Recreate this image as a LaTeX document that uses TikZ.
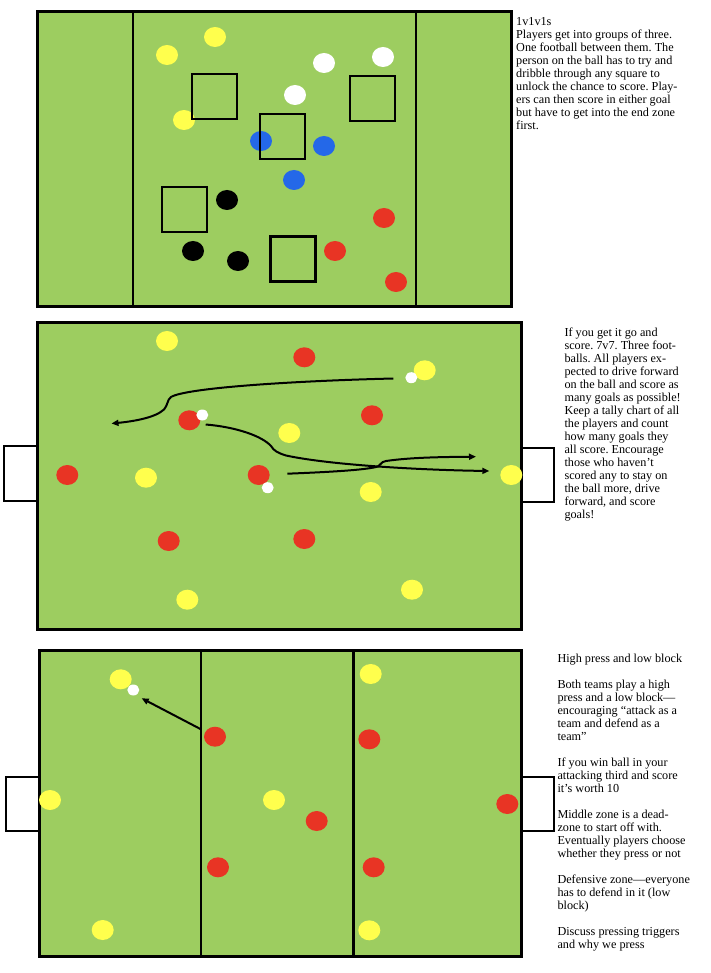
\documentclass[tikz,border=0pt]{standalone}
\usepackage{fontspec}
\setmainfont{Liberation Serif}
\usetikzlibrary{shapes.geometric,arrows.meta}
\definecolor{pitchgreen}{RGB}{157,205,96}
\definecolor{cyellow}{RGB}{255,255,77}
\definecolor{cred}{RGB}{232,52,36}
\definecolor{cblue}{RGB}{36,104,232}
\frenchspacing
\begin{document}
\begin{tikzpicture}[x=1pt,y=-1pt,
  pitch/.style={fill=pitchgreen,draw=black,line width=3pt},
  zone/.style={draw=black,line width=2.8pt},
  goalbox/.style={fill=white,draw=black,line width=2.2pt},
  dot/.style={ellipse,inner sep=0pt,minimum width=22pt,minimum height=20pt,draw=none},
  ydot/.style={dot,fill=cyellow},
  rdot/.style={dot,fill=cred},
  bdot/.style={dot,fill=cblue},
  kdot/.style={dot,fill=black},
  wdot/.style={dot,fill=white},
  ball/.style={ellipse,inner sep=0pt,minimum width=12pt,minimum height=11pt,fill=white,draw=none},
  sqbox/.style={draw=black,line width=2.8pt,minimum size=45pt,inner sep=0pt},
  run/.style={draw=black,line width=2pt,-{Triangle[length=7pt,width=6pt]}},
  txt/.style={anchor=base west,inner sep=0pt,font=\fontsize{12.2}{13}\selectfont}
]
\useasboundingbox (0,0) rectangle (710,973);

% ================= Panel 1 =================
\draw[pitch] (37,12) rectangle (511,306);
\draw[zone] (133,12) -- (133,306);
\draw[zone] (416,12) -- (416,306);

\node[ydot] (a1) at (215,37) {};
\node[ydot] (a2) at (167,55) {};
\node[ydot] (a3) at (184,120) {};
\node[wdot] (a4) at (324,63) {};
\node[wdot] (a5) at (383,57) {};
\node[wdot] (a6) at (295,95) {};
\node[bdot] (a7) at (261,141) {};
\node[bdot] (a8) at (324,146) {};
\node[bdot] (a9) at (294,180) {};
\node[kdot] (a10) at (227,200) {};
\node[kdot] (a11) at (193,251) {};
\node[kdot] (a12) at (238,261) {};
\node[rdot] (a13) at (384,218) {};
\node[rdot] (a14) at (335,251) {};
\node[rdot] (a15) at (396,282) {};

\node[sqbox] (s1) at (214.5,96.5) {};
\node[sqbox] (s2) at (282.5,136.5) {};
\node[sqbox] (s3) at (372.5,98.5) {};
\node[sqbox] (s4) at (184.5,209.5) {};
\node[sqbox] (s5) at (293,259) {};

\node[txt] (t1) at (516,26) {\begin{tabular}[t]{@{}l@{}}
1v1v1s\\
Players get into groups of three.\\
One football between them. The\\
person on the ball has to try and\\
dribble through any square to\\
unlock the chance to score. Play-\\
ers can then score in either goal\\
but have to get into the end zone\\
first.
\end{tabular}};

% ================= Panel 2 =================
\draw[goalbox] (4,446) rectangle (37,501);
\draw[goalbox] (521,448) rectangle (554,502);
\draw[pitch] (37,322.5) rectangle (521,629);

\node[ydot] (b1) at (167,341) {};
\node[ydot] (b2) at (424.7,370.3) {};
\node[ydot] (b3) at (289.3,433) {};
\node[ydot] (b4) at (146,477.7) {};
\node[ydot] (b5) at (370.7,492) {};
\node[ydot] (b6) at (511.3,475) {};
\node[ydot] (b7) at (187.3,599.7) {};
\node[ydot] (b8) at (412,589.7) {};
\node[rdot] (b9) at (304.3,357.3) {};
\node[rdot] (b10) at (189.3,420.3) {};
\node[rdot] (b11) at (372,415.3) {};
\node[rdot] (b12) at (67.3,475) {};
\node[rdot] (b13) at (258.7,475) {};
\node[rdot] (b14) at (168.7,541) {};
\node[rdot] (b15) at (304.3,539) {};
\node[ball] (w1) at (411.3,377.7) {};
\node[ball] (w2) at (202.3,415) {};
\node[ball] (w3) at (267.7,487.7) {};

\coordinate (ra0) at (393.3,378.5);
\coordinate (ra1) at (111.5,423.5);
\coordinate (rb0) at (205.7,424.5);
\coordinate (rb1) at (489.3,471);
\coordinate (rc0) at (287.3,473.7);
\coordinate (rc1) at (476,456.7);

\draw[run] (ra0) .. controls (290,381) and (186,388) .. (171,397)
  .. controls (167,400) and (168,405) .. (164,409.5)
  .. controls (155,418) and (132,421.5) .. (ra1);
\draw[run] (rb0) .. controls (236,427) and (262,436) .. (271,446)
  .. controls (274,451) and (278,453) .. (286,455.5)
  .. controls (330,465) and (420,470) .. (rb1);
\draw[run] (rc0) .. controls (330,472) and (366,470) .. (378,466.5)
  .. controls (381,465.5) and (380,462) .. (386,461)
  .. controls (410,457.5) and (440,457) .. (rc1);

\node[txt] (t2) at (564.3,336.7) {\begin{tabular}[t]{@{}l@{}}
If you get it go and\\
score. 7v7. Three foot-\\
balls. All players ex-\\
pected to drive forward\\
on the ball and score as\\
many goals as possible!\\
Keep a tally chart of all\\
the players and count\\
how many goals they\\
all score. Encourage\\
those who haven't\\
scored any to stay on\\
the ball more, drive\\
forward, and score\\
goals!
\end{tabular}};

% ================= Panel 3 =================
\draw[goalbox] (6,777) rectangle (39,831);
\draw[goalbox] (521.7,777) rectangle (554.3,831);
\draw[pitch] (39,650) rectangle (521.7,956.7);
\draw[zone] (201,650) -- (201,956.7);
\draw[zone] (353.3,650) -- (353.3,956.7);

\node[ydot] (c1) at (120.7,679.3) {};
\node[ydot] (c2) at (50,800) {};
\node[ydot] (c3) at (102.7,930) {};
\node[ydot] (c4) at (274,800) {};
\node[ydot] (c5) at (370.7,674) {};
\node[ydot] (c6) at (369.3,930.3) {};
\node[rdot] (c7) at (215,736.7) {};
\node[rdot] (c8) at (218,867.3) {};
\node[rdot] (c9) at (316.7,821) {};
\node[rdot] (c10) at (369.3,739.3) {};
\node[rdot] (c11) at (373.7,867.3) {};
\node[rdot] (c12) at (507.3,804) {};
\node[ball] (w4) at (133.3,690) {};

\coordinate (pa0) at (201,729.3);
\coordinate (pa1) at (141.7,698.3);
\draw[run] (pa0) -- (pa1);

\node[txt] (t3) at (557.3,662.7) {\begin{tabular}[t]{@{}l@{}}
High press and low block\\
\\
Both teams play a high\\
press and a low block—\\
encouraging “attack as a\\
team and defend as a\\
team”\\
\\
If you win ball in your\\
attacking third and score\\
it’s worth 10\\
\\
Middle zone is a dead-\\
zone to start off with.\\
Eventually players choose\\
whether they press or not\\
\\
Defensive zone—everyone\\
has to defend in it (low\\
block)\\
\\
Discuss pressing triggers\\
and why we press
\end{tabular}};
\end{tikzpicture}
\end{document}
